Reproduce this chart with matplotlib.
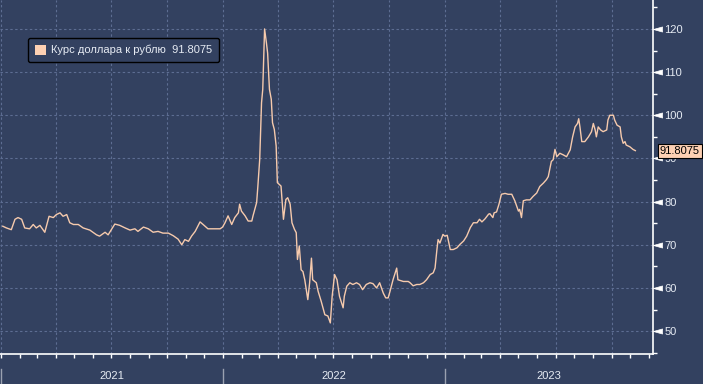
import pandas as pd
import matplotlib
matplotlib.use('Agg')
import matplotlib.pyplot as plt
import matplotlib.dates as mdates
from matplotlib.patches import Patch
from matplotlib.ticker import MultipleLocator, NullFormatter

# USD/RUB
dates = [
    '2021-01-04', '2021-01-10', '2021-01-18', '2021-01-24', '2021-01-29', '2021-02-04',
    '2021-02-09', '2021-02-17', '2021-02-23', '2021-02-28', '2021-03-06', '2021-03-14',
    '2021-03-21', '2021-03-28', '2021-04-02', '2021-04-08', '2021-04-13', '2021-04-19',
    '2021-04-24', '2021-04-30', '2021-05-08', '2021-05-16', '2021-05-27', '2021-06-07',
    '2021-06-12', '2021-06-21', '2021-06-26', '2021-07-07', '2021-07-15', '2021-07-24',
    '2021-08-01', '2021-08-09', '2021-08-14', '2021-08-23', '2021-08-31', '2021-09-08',
    '2021-09-16', '2021-09-24', '2021-10-03', '2021-10-11', '2021-10-19', '2021-10-25',
    '2021-10-30', '2021-11-05', '2021-11-10', '2021-11-16', '2021-11-24', '2021-11-29',
    '2021-12-07', '2021-12-16', '2021-12-27', '2021-12-31',
    '2022-01-04', '2022-01-09', '2022-01-15', '2022-01-20', '2022-01-26', '2022-01-28',
    '2022-01-31', '2022-02-06', '2022-02-11', '2022-02-17', '2022-02-19', '2022-02-25',
    '2022-02-27', '2022-03-02', '2022-03-05', '2022-03-07', '2022-03-10', '2022-03-13',
    '2022-03-15', '2022-03-18', '2022-03-21', '2022-03-23', '2022-03-26', '2022-03-29',
    '2022-03-31', '2022-04-03', '2022-04-06', '2022-04-10', '2022-04-14', '2022-04-17',
    '2022-04-21', '2022-04-24', '2022-04-28', '2022-05-01', '2022-05-03', '2022-05-06',
    '2022-05-09', '2022-05-12', '2022-05-15', '2022-05-20', '2022-05-23', '2022-05-26',
    '2022-05-28', '2022-06-03', '2022-06-06', '2022-06-11', '2022-06-17', '2022-06-22',
    '2022-06-26', '2022-06-29', '2022-07-03', '2022-07-07', '2022-07-11', '2022-07-17',
    '2022-07-19', '2022-07-23', '2022-07-28', '2022-08-02', '2022-08-08', '2022-08-13',
    '2022-08-18', '2022-08-24', '2022-08-30', '2022-09-04', '2022-09-10', '2022-09-15',
    '2022-09-21', '2022-09-25', '2022-09-29', '2022-10-02', '2022-10-07', '2022-10-13',
    '2022-10-15', '2022-10-24', '2022-11-01', '2022-11-04', '2022-11-09', '2022-11-15',
    '2022-11-20', '2022-11-26', '2022-12-01', '2022-12-07', '2022-12-12', '2022-12-15',
    '2022-12-18', '2022-12-20', '2022-12-23', '2022-12-28', '2022-12-31',
    '2023-01-04', '2023-01-09', '2023-01-14', '2023-01-20', '2023-01-25', '2023-01-31',
    '2023-02-05', '2023-02-11', '2023-02-16', '2023-02-22', '2023-02-26', '2023-03-02',
    '2023-03-07', '2023-03-13', '2023-03-15', '2023-03-20', '2023-03-22', '2023-03-26',
    '2023-03-30', '2023-04-03', '2023-04-09', '2023-04-14', '2023-04-20', '2023-04-25',
    '2023-05-01', '2023-05-03', '2023-05-06', '2023-05-09', '2023-05-14', '2023-05-20',
    '2023-05-25', '2023-05-31', '2023-06-05', '2023-06-11', '2023-06-16', '2023-06-19',
    '2023-06-24', '2023-06-27', '2023-06-30', '2023-07-03', '2023-07-08', '2023-07-14',
    '2023-07-19', '2023-07-25', '2023-07-29', '2023-08-02', '2023-08-06', '2023-08-08',
    '2023-08-10', '2023-08-13', '2023-08-18', '2023-08-24', '2023-08-29', '2023-09-01',
    '2023-09-04', '2023-09-06', '2023-09-09', '2023-09-13', '2023-09-17', '2023-09-23',
    '2023-09-25', '2023-09-28', '2023-10-04', '2023-10-06', '2023-10-10', '2023-10-15',
    '2023-10-17', '2023-10-20', '2023-10-23', '2023-10-25', '2023-10-31', '2023-11-05',
    '2023-11-09',
]
usd_rub = [
    74.3, 73.9, 73.5, 75.9, 76.3, 75.9,
    73.9, 73.7, 74.7, 73.9, 74.5, 72.9,
    76.6, 76.3, 77.0, 77.4, 76.6, 77.0,
    75.1, 74.7, 74.7, 73.9, 73.4, 72.3,
    72.0, 72.9, 72.3, 74.8, 74.5, 73.9,
    73.4, 73.7, 73.1, 74.1, 73.7, 72.9,
    73.1, 72.7, 72.7, 72.1, 71.3, 70.0,
    71.2, 70.8, 72.0, 73.1, 75.3, 74.7,
    73.7, 73.7, 73.7, 74.1,
    75.1, 76.7, 74.7, 76.3, 77.4, 79.4,
    77.8, 76.7, 75.5, 75.5, 76.7, 79.8,
    83.6, 89.8, 102.9, 106.0, 120.0, 116.8,
    114.4, 106.0, 103.7, 98.3, 96.7, 92.9,
    84.4, 84.0, 83.6, 75.9, 80.5, 80.9,
    79.4, 75.1, 73.6, 72.8, 66.6, 69.7,
    64.2, 63.8, 61.9, 57.3, 61.2, 66.9,
    61.9, 61.2, 59.2, 56.9, 53.8, 53.5,
    51.9, 58.1, 63.1, 61.9, 58.1, 55.4,
    58.1, 60.4, 61.2, 60.8, 61.2, 60.8,
    59.6, 60.8, 61.2, 61.0, 60.0, 61.2,
    58.8, 57.7, 57.7, 59.2, 61.9, 64.6,
    61.9, 61.5, 61.5, 61.2, 60.5, 60.8,
    60.8, 61.2, 61.9, 63.1, 63.5, 64.6,
    68.8, 71.2, 70.4, 72.4, 72.0,
    72.2, 68.9, 68.9, 69.3, 70.1, 70.9,
    72.0, 74.0, 75.1, 75.1, 75.9, 75.3,
    76.0, 77.1, 77.2, 76.3, 77.4, 77.6,
    79.4, 81.7, 81.9, 81.7, 81.7, 80.2,
    77.8, 78.2, 76.3, 80.2, 80.4, 80.4,
    81.2, 82.0, 83.5, 84.3, 85.1, 85.8,
    89.3, 89.7, 92.1, 90.4, 91.2, 90.8,
    90.4, 92.0, 95.0, 97.3, 98.1, 99.2,
    97.3, 93.9, 93.9, 95.0, 96.2, 98.1,
    96.6, 95.0, 97.3, 96.6, 96.2, 96.6,
    98.9, 100.0, 100.0, 98.9, 97.7, 97.3,
    95.0, 93.5, 93.9, 93.1, 92.7, 92.1,
    91.8075,
]
years = ['2021', '2022', '2023']
series_label = 'Курс доллара к рублю  91.8075'
last_value = '91.8075'

bg = '#334160'
line_col = '#f6caad'
txt_col = '#e6ebf3'
grid_col = '#5d6d92'

x = pd.to_datetime(dates)
x_start = pd.Timestamp('2020-12-30 10:00')
x_end = pd.Timestamp('2023-12-08')

plt.rcParams['font.family'] = ['Liberation Sans', 'DejaVu Sans']
fig = plt.figure(figsize=(7.03, 3.84), dpi=100, facecolor=bg)
ax = fig.add_axes([0, 354 and 1 - 354 / 384, 653 / 703, 354 / 384])
ax.set_facecolor(bg)

ax.plot(x, usd_rub, color=line_col, lw=1.0, zorder=3)

ax.set_xlim(x_start, x_end)
ax.set_ylim(44.7, 126.7)

for side in ['left', 'top']:
    ax.spines[side].set_visible(False)
for side in ['right', 'bottom']:
    ax.spines[side].set_color('white')
    ax.spines[side].set_linewidth(1.2)

# y axis on the right
ax.yaxis.tick_right()
ax.yaxis.set_major_locator(MultipleLocator(10))
ax.yaxis.set_minor_locator(MultipleLocator(5))
ax.tick_params(axis='y', which='major', length=6.5, pad=1.5, colors=txt_col,
               labelsize=8)
ax.tick_params(axis='y', which='minor', length=3, width=1, color='white')
tri = [(0, 0), (1, 0.28), (1, -0.28), (0, 0)]
for t in ax.yaxis.get_major_ticks():
    t.tick2line.set_marker(tri)
    t.tick2line.set_markersize(13)
    t.tick2line.set_markerfacecolor('white')
    t.tick2line.set_markeredgecolor('white')
    t.tick2line.set_markeredgewidth(0.5)

# x axis: monthly ticks, quarterly grid
ax.xaxis.set_major_locator(mdates.MonthLocator(bymonth=[1, 4, 7, 10]))
ax.xaxis.set_minor_locator(mdates.MonthLocator())
ax.xaxis.set_major_formatter(NullFormatter())
ax.tick_params(axis='x', which='both', length=3, width=1, color='white')

ax.grid(True, which='major', color=grid_col, lw=0.8, ls=(0, (2.2, 2.2)))

# year bands below the axis
bounds = [x_start] + [pd.Timestamp(f'{y}-01-01') for y in years[1:]] + [x_end]
for i, yr in enumerate(years):
    sep = pd.Timestamp(f'{yr}-01-01')
    ax.axvline(sep, ymin=-0.09, ymax=-0.042, color='#9aa1b0', lw=1, clip_on=False)
    mid = bounds[i] + (bounds[i + 1] - bounds[i]) / 2
    ax.text(mid, -0.062, yr, transform=ax.get_xaxis_transform(), ha='center',
            va='center', color=txt_col, fontsize=8)

# legend
leg = ax.legend(handles=[Patch(facecolor='#fdd0b3', edgecolor='none')],
                labels=[series_label], loc='upper left',
                bbox_to_anchor=(28 / 653, 1 - 38 / 354), borderaxespad=0,
                fontsize=8, facecolor=bg, edgecolor='black', framealpha=1,
                labelcolor=txt_col, handlelength=1.0, handleheight=1.0,
                handletextpad=0.5, borderpad=0.6, fancybox=True)
leg.get_frame().set_linewidth(1.0)

# last value tag
ax.annotate(last_value, xy=(1, usd_rub[-1]), xycoords=('axes fraction', 'data'),
            xytext=(5, 0), textcoords='offset points', ha='left', va='center',
            fontsize=8, color='black', annotation_clip=False, zorder=5,
            bbox=dict(boxstyle='square,pad=0.18', fc='#fdd0b3', ec='black', lw=0.8))

fig.savefig('out.png', dpi=100, facecolor=bg)
